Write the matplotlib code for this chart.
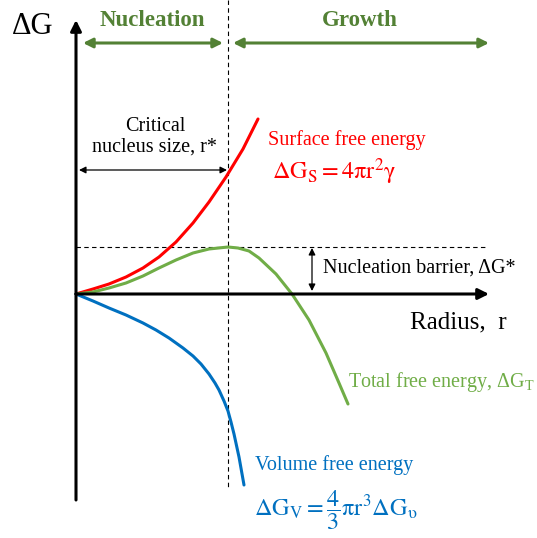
import matplotlib.pyplot as plt

plt.rcParams['font.family'] = ['Liberation Serif', 'DejaVu Serif']
plt.rcParams['mathtext.fontset'] = 'custom'
plt.rcParams['mathtext.rm'] = 'Liberation Serif'
plt.rcParams['mathtext.it'] = 'Liberation Serif:italic'

RED = '#ff0000'
GREEN = '#70ad47'
DARK_GREEN = '#538135'
BLUE = '#0070c0'

# schematic curves, radius r vs free energy change (arbitrary units)
r_surface = [0, 17, 33, 50, 67, 83, 100, 117, 133, 150, 167, 182]
g_surface = [0, 5, 10, 17, 26, 37, 52, 71, 92, 117, 145, 175]

r_total = [0, 17, 33, 50, 67, 83, 100, 117, 133, 152, 162, 173, 183, 200, 216, 233, 250, 263, 272]
g_total = [0, 2, 6, 11, 18, 26, 34, 41, 45, 47, 46, 43, 36, 20, 0, -26, -59, -89, -110]

r_volume = [0, 17, 33, 50, 67, 80, 93, 107, 117, 125, 133, 139, 143, 148, 152, 155, 158, 163, 168]
g_volume = [0, -7, -14, -21, -29, -36, -44, -54, -62, -70, -80, -89, -96, -107, -117, -128, -140, -163, -191]

r_critical = 152
g_barrier = 47


def main():
    fig = plt.figure(figsize=(5.37, 5.38), dpi=100)
    ax = fig.add_axes([0, 0, 1, 1])
    ax.set_xlim(-76, 461)
    ax.set_ylim(-244, 294)
    ax.axis('off')

    # axes with arrow heads
    ax.annotate('', xy=(0, 274), xytext=(0, -206),
                arrowprops=dict(arrowstyle='-|>', lw=2.2, color='black',
                                mutation_scale=16, shrinkA=0, shrinkB=0))
    ax.annotate('', xy=(413, 0), xytext=(0, 0),
                arrowprops=dict(arrowstyle='-|>', lw=2.2, color='black',
                                mutation_scale=16, shrinkA=0, shrinkB=0))

    # guide lines through the critical point
    ax.plot([r_critical, r_critical], [294, -196], color='black', lw=0.8,
            ls=(0, (4, 3)))
    ax.plot([0, 411], [g_barrier, g_barrier], color='black', lw=0.8,
            ls=(0, (4, 3)))

    ax.plot(r_surface, g_surface, color=RED, lw=2.2, solid_capstyle='round',
            solid_joinstyle='round')
    ax.plot(r_total, g_total, color=GREEN, lw=2.2, solid_capstyle='round',
            solid_joinstyle='round')
    ax.plot(r_volume, g_volume, color=BLUE, lw=2.2, solid_capstyle='round',
            solid_joinstyle='round')

    # nucleation / growth regions
    ax.annotate('', xy=(147, 251), xytext=(7, 251),
                arrowprops=dict(arrowstyle='<|-|>', lw=2.2, color=DARK_GREEN,
                                mutation_scale=14, shrinkA=0, shrinkB=0))
    ax.annotate('', xy=(413, 251), xytext=(157, 251),
                arrowprops=dict(arrowstyle='<|-|>', lw=2.2, color=DARK_GREEN,
                                mutation_scale=14, shrinkA=0, shrinkB=0))
    ax.text(76, 274, 'Nucleation', color=DARK_GREEN, fontsize=16.5,
            fontweight='bold', ha='center', va='center')
    ax.text(284, 274, 'Growth', color=DARK_GREEN, fontsize=16.5,
            fontweight='bold', ha='center', va='center')

    ax.text(-43, 268, 'ΔG', fontsize=22, ha='center', va='center')
    ax.text(334, -28, 'Radius,  r', fontsize=18, ha='left', va='center')

    # critical nucleus size
    ax.annotate('', xy=(r_critical - 1, 124), xytext=(3, 124),
                arrowprops=dict(arrowstyle='<|-|>', lw=0.9, color='black',
                                mutation_scale=10, shrinkA=0, shrinkB=0))
    ax.text(79, 157, 'Critical\nnucleus size, r*', fontsize=14.5,
            ha='center', va='center', linespacing=1.1)

    # nucleation barrier
    ax.annotate('', xy=(236, 3), xytext=(236, g_barrier - 1),
                arrowprops=dict(arrowstyle='<|-|>', lw=0.9, color='black',
                                mutation_scale=10, shrinkA=0, shrinkB=0))
    ax.text(247, 26, 'Nucleation barrier, ΔG*', fontsize=14.5,
            ha='left', va='center')

    ax.text(192, 154, 'Surface free energy', color=RED, fontsize=14.5,
            ha='left', va='center')
    ax.text(196, 122, r'$\Delta\mathrm{G_S} = 4\mathrm{\pi r}^2\mathrm{\gamma}$',
            color=RED, fontsize=17.5, ha='left', va='center',
            math_fontfamily='stix')

    ax.text(272, -88, r'Total free energy, ΔG$_\mathrm{T}$', color=GREEN,
            fontsize=14.5, ha='left', va='center')

    ax.text(179, -171, 'Volume free energy', color=BLUE, fontsize=14.5,
            ha='left', va='center')
    ax.text(178, -216,
            r'$\Delta\mathrm{G_V} = \dfrac{4}{3}\mathrm{\pi r}^3\Delta\mathrm{G}_\mathrm{\upsilon}$',
            color=BLUE, fontsize=17.5, ha='left', va='center',
            math_fontfamily='stix')

    fig.savefig('out.png', dpi=100)


main()
